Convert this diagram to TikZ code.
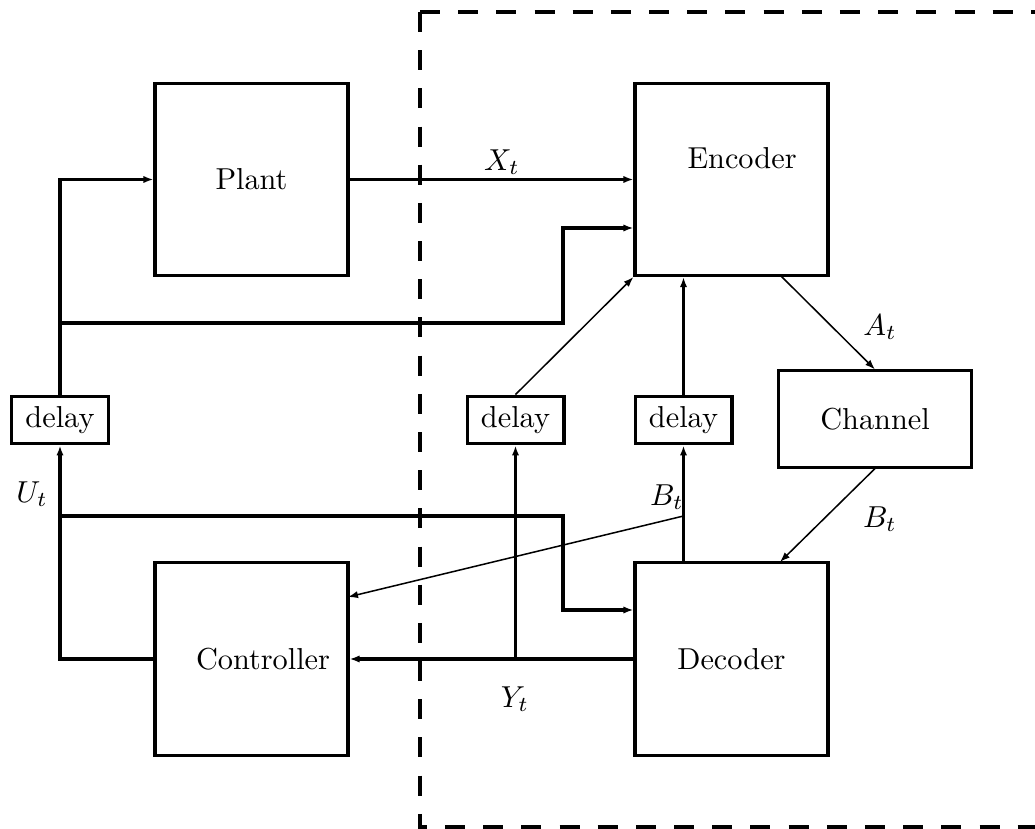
\documentclass[tikz,border=0pt]{standalone}
\usetikzlibrary{arrows.meta}
\begin{document}
\begin{tikzpicture}[x=0.33pt,y=-0.33pt,
  bigbox/.style={draw,line width=1pt,minimum width=63.7pt,minimum height=63.4pt,inner sep=0pt},
  chanbox/.style={draw,line width=1pt,minimum width=63.4pt,minimum height=31.7pt,inner sep=0pt},
  delaybox/.style={draw,line width=1pt,minimum width=32pt,minimum height=15.8pt,inner sep=0pt},
  thickline/.style={line width=1pt},
  midline/.style={line width=0.7pt},
  thinline/.style={line width=0.5pt},
  arr/.style={-{Latex[length=3.3pt,width=2.4pt]}},
  lbl/.style={inner sep=0pt},
  border/.style={line width=1.3pt,dash pattern=on 6.6pt off 6pt}
]
\useasboundingbox (0,0) rectangle (1035,829);

% dashed region
\draw[border] (420,12) -- (1050,12);
\draw[border] (420,12) -- (420,827) -- (1050,827);

% boxes
\node[bigbox] (plant) at (251.5,179.5) {Plant};
\node[bigbox,label={[xshift=3.5pt,yshift=6.9pt]center:Encoder}] (enc) at (731.5,179.5) {};
\node[chanbox] (chan) at (875,419) {Channel};
\node[bigbox] (dec) at (731.5,659) {Decoder};
\node[bigbox,label={[xshift=3.8pt]center:Controller}] (ctrl) at (251.5,659) {};
\node[delaybox] (ldelay) at (60,420) {delay};
\node[delaybox] (mdelay) at (515.5,420) {delay};
\node[delaybox] (rdelay) at (683.5,420) {delay};

% junctions / bends
\coordinate (jA) at (60,323);
\coordinate (kA) at (563,228);
\coordinate (jD) at (60,516);
\coordinate (kD) at (563,610);
\coordinate (jB) at (683.5,516);
\coordinate (ctrlin) at (348,597);
\coordinate (encout) at (780,275);
\coordinate (decin) at (780,562);

% connectors
\draw[thickline,arr] (ldelay.north) |- (plant.west);
\draw[thickline,arr] (jA) -| (kA) -- (kA -| enc.west);
\draw[thickline,arr] (plant.east) -- (enc.west);
\draw[thinline,arr] (mdelay.north) -- (enc.south west);
\draw[midline,arr] (rdelay.north) -- (rdelay.north |- enc.south);
\draw[thinline,arr] (encout) -- (chan.north);
\draw[thinline,arr] (chan.south) -- (decin);
\draw[midline,arr] (rdelay.south |- dec.north) -- (rdelay.south);
\draw[thinline,arr] (jB) -- (ctrlin);
\draw[thickline,arr] (dec.west) -- (ctrl.east);
\draw[midline,arr] (mdelay.south |- dec.west) -- (mdelay.south);
\draw[thickline,arr] (ctrl.west) -| (ldelay.south);
\draw[thickline,arr] (jD) -| (kD) -- (kD -| dec.west);

% labels
\node[lbl] (xt) at (502,162) {$X_t$};
\node[lbl] (at) at (880,327) {$A_t$};
\node[lbl] (bt1) at (880,519) {$B_t$};
\node[lbl] (bt2) at (667,497) {$B_t$};
\node[lbl] (yt) at (515,699) {$Y_t$};
\node[lbl] (ut) at (32,494) {$U_t$};
\end{tikzpicture}
\end{document}
